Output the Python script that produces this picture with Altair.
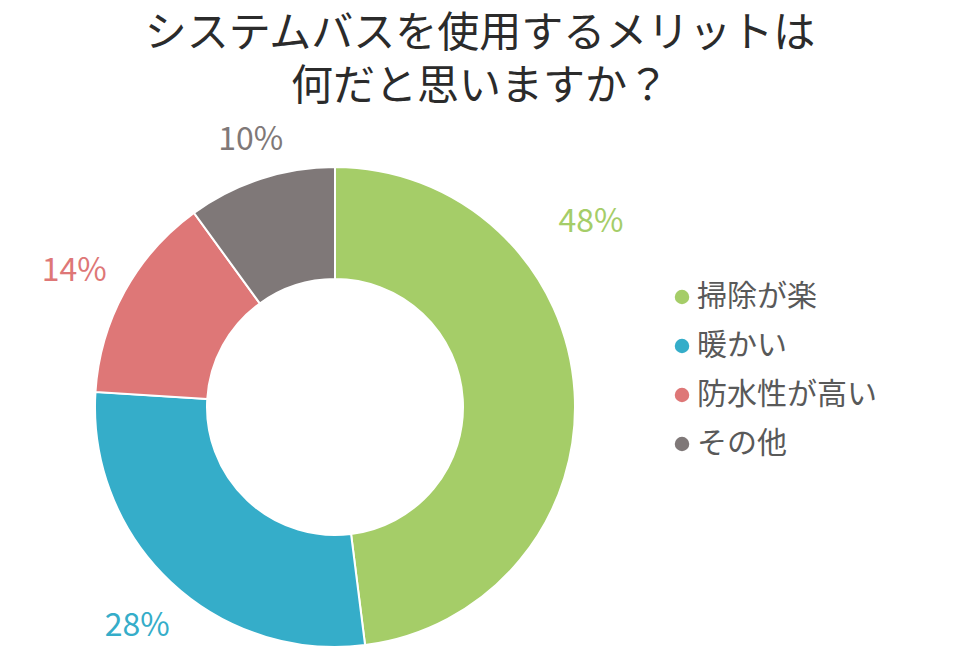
import math
import altair as alt
import pandas as pd

# ---- data ----
categories = ["掃除が楽", "暖かい", "防水性が高い", "その他"]
values = [48, 28, 14, 10]
labels = ["48%", "28%", "14%", "10%"]
title_lines = ["システムバスを使用するメリットは", "何だと思いますか？"]

# ---- styles / layout (not data) ----
colors = ["#a5cd68", "#35adc9", "#de7777", "#7f7878"]
label_angle_deg = [54.1, 222.1, 297.5, 342.5]
label_radius = [316, 295, 294, 280]
CX, CY = 327, 399
FONT = "Noto Sans CJK JP"

df = pd.DataFrame({
    "category": categories,
    "value": values,
    "order": list(range(len(categories))),
    "label": labels,
    "langle": label_angle_deg,
    "lradius": label_radius,
})

color_scale = alt.Scale(domain=categories, range=colors)
legend = alt.Legend(
    title=None, orient="none", legendX=653, legendY=274,
    symbolType="circle", symbolSize=210, symbolStrokeWidth=0, symbolOpacity=1,
    symbolOffset=6,
    labelFont=FONT, labelFontSize=30, labelColor="#595959", labelOffset=0,
    rowPadding=19, padding=0, labelLimit=400,
)

arc = alt.Chart(df).mark_arc(
    outerRadius=240, innerRadius=128, stroke="white", strokeWidth=2
).encode(
    theta=alt.Theta("value:Q", stack=True),
    color=alt.Color("category:N", scale=color_scale, legend=legend),
    order=alt.Order("order:Q"),
    x=alt.value(CX),
    y=alt.value(CY),
)

text = alt.Chart(df).mark_text(
    font=FONT, fontSize=32, align="center", baseline="middle"
).encode(
    theta=alt.Theta("langle:Q", stack=False,
                    scale=alt.Scale(domain=[0, 360], range=[0, 2 * math.pi])),
    radius=alt.Radius("lradius:Q", scale=None),
    text="label:N",
    color=alt.Color("category:N", scale=color_scale, legend=legend),
    x=alt.value(CX),
    y=alt.value(CY),
)

title = alt.Chart(pd.DataFrame({"t": [0]})).mark_text(
    font=FONT, fontSize=42, fontWeight="normal", color="#2b2b2b",
    align="center", baseline="middle", lineHeight=53,
).encode(
    text=alt.value(title_lines),
    x=alt.value(472),
    y=alt.value(26),
)

chart = alt.layer(arc, text, title).resolve_scale(theta="independent").properties(
    width=944, height=640, autosize="none", padding=0,
    background="white",
).configure_view(stroke=None)

chart.save("out.html", embed_options={"renderer": "svg", "actions": False})
